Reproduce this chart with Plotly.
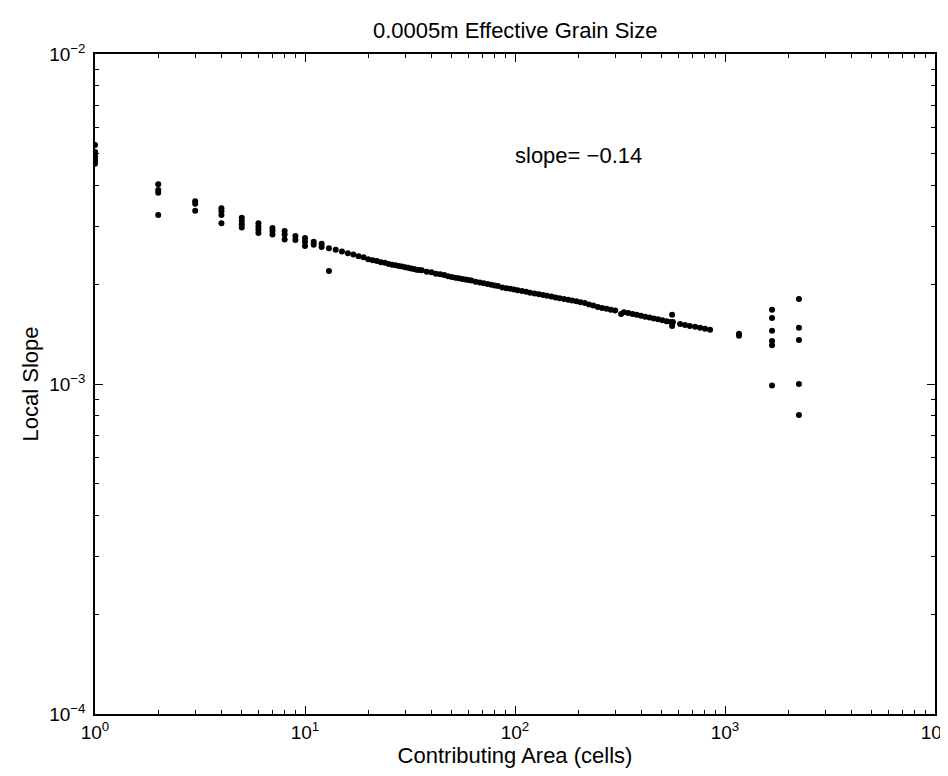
import plotly.graph_objects as go

# contributing area (cells) and local slope (x 1e-3)
head_area = [1, 1, 1, 1, 1, 1, 2, 2, 2, 2, 3, 3, 3, 4, 4, 4, 4, 5, 5, 5, 5,
             6, 6, 6, 6, 7, 7, 7, 8, 8, 8, 9, 9, 10, 10, 10, 11, 11, 12, 12]
head_slope = [5.30, 5.05, 4.95, 4.85, 4.75, 4.65, 4.03, 3.87, 3.80, 3.25,
              3.58, 3.52, 3.35, 3.41, 3.34, 3.25, 3.07, 3.19, 3.12, 3.05, 2.98,
              3.07, 3.00, 2.94, 2.87, 2.97, 2.91, 2.84, 2.91, 2.84, 2.74,
              2.81, 2.73, 2.77, 2.70, 2.62, 2.70, 2.64, 2.66, 2.60]

line_area = [13, 14, 15, 16, 17, 18, 19, 20, 21, 22, 23, 24, 25, 26, 27, 28,
             29, 30, 31, 32, 33, 34, 35, 36, 38, 40, 42, 44, 46, 48, 50, 52,
             54, 56, 58, 60, 62, 65, 68, 71, 74, 77, 80, 83, 87, 91, 95, 99,
             103, 108, 113, 118, 124, 130, 136, 142, 149, 156, 163, 171, 179,
             187, 196, 205, 215, 225, 236, 248, 260, 273, 286, 300, 320, 330,
             346, 363, 380, 398, 417, 437, 458, 480, 503, 527, 552, 565, 560,
             560]
line_slope = [2.58, 2.55, 2.52, 2.49, 2.47, 2.44, 2.42, 2.39, 2.37, 2.36,
              2.34, 2.33, 2.31, 2.30, 2.29, 2.28, 2.27, 2.26, 2.25, 2.24,
              2.23, 2.22, 2.215, 2.21, 2.19, 2.18, 2.16, 2.15, 2.14, 2.12,
              2.11, 2.10, 2.09, 2.08, 2.075, 2.065, 2.06, 2.04, 2.03, 2.02,
              2.01, 2.00, 1.99, 1.98, 1.96, 1.95, 1.945, 1.935, 1.925, 1.915,
              1.905, 1.89, 1.88, 1.87, 1.86, 1.85, 1.84, 1.83, 1.82, 1.81,
              1.80, 1.79, 1.78, 1.77, 1.76, 1.74, 1.73, 1.71, 1.70, 1.69,
              1.68, 1.67, 1.63, 1.65, 1.64, 1.63, 1.62, 1.61, 1.60, 1.59,
              1.58, 1.57, 1.56, 1.55, 1.54, 1.54, 1.62, 1.50]

seg_area = [611, 645, 680, 720, 761, 803, 849]
seg_slope = [1.52, 1.51, 1.50, 1.49, 1.48, 1.47, 1.46]

outlier_area = [13]
outlier_slope = [2.20]

tail_area = [1166, 1166, 1675, 1675, 1675, 1675, 1675, 1675,
             2250, 2250, 2250, 2250, 2250]
tail_slope = [1.42, 1.40, 1.68, 1.585, 1.45, 1.35, 1.31, 0.99,
              1.81, 1.48, 1.36, 1.00, 0.805]

x_tick_vals = [1, 10, 100, 1000, 10000]
x_tick_text = ["10<sup>0</sup>", "10<sup>1</sup>", "10<sup>2</sup>",
               "10<sup>3</sup>", "10<sup>4</sup>"]
y_tick_vals = [1e-4, 1e-3, 1e-2]
y_tick_text = ["10<sup>−4</sup>", "10<sup>−3</sup>", "10<sup>−2</sup>"]

area = head_area + line_area + seg_area + outlier_area + tail_area
slope = [v * 1e-3 for v in head_slope + line_slope + seg_slope + outlier_slope + tail_slope]

FONT = "Liberation Sans, Arial, sans-serif"

fig = go.Figure(go.Scatter(
    x=area, y=slope, mode="markers",
    marker=dict(color="black", size=6),
    hoverinfo="x+y", showlegend=False,
))

x_minor = [m * 10 ** d for d in range(4) for m in range(2, 10)]
y_minor = [m * 10 ** d for d in (-4, -3) for m in range(2, 10)]

axis_common = dict(
    showline=True, linecolor="black", linewidth=1.5, mirror="ticks",
    ticks="inside", ticklen=8, tickwidth=1, tickcolor="black",
    showgrid=False, zeroline=False, automargin=False,
    tickfont=dict(family=FONT, size=19, color="black"),
)

fig.update_xaxes(
    type="log", range=[0, 4],
    tickvals=x_tick_vals, ticktext=x_tick_text,
    minor=dict(tickvals=x_minor, ticks="inside", ticklen=4, tickcolor="black", showgrid=False),
    title=dict(text="Contributing Area (cells)", font=dict(family=FONT, size=22, color="black"), standoff=2),
    **axis_common,
)
fig.update_yaxes(
    type="log", range=[-4, -2],
    tickvals=y_tick_vals, ticktext=y_tick_text, ticklabelstandoff=4,
    minor=dict(tickvals=y_minor, ticks="inside", ticklen=4, tickcolor="black", showgrid=False),
    title=dict(text="Local Slope", font=dict(family=FONT, size=22, color="black"), standoff=4),
    **axis_common,
)

fig.add_annotation(
    x=1.99, y=-2.309, xref="x", yref="y", text="slope= −0.14",
    showarrow=False, xanchor="left", yanchor="middle",
    font=dict(family=FONT, size=22, color="black"),
)

fig.update_layout(
    width=948, height=776,
    margin=dict(l=87, r=21, t=46, b=70),
    paper_bgcolor="white", plot_bgcolor="white",
    title=dict(text="0.0005m Effective Grain Size", x=0.535, xanchor="center",
               y=1 - 22 / 776, yanchor="middle",
               font=dict(family=FONT, size=22, color="black")),
)

fig.write_html("out.html")
